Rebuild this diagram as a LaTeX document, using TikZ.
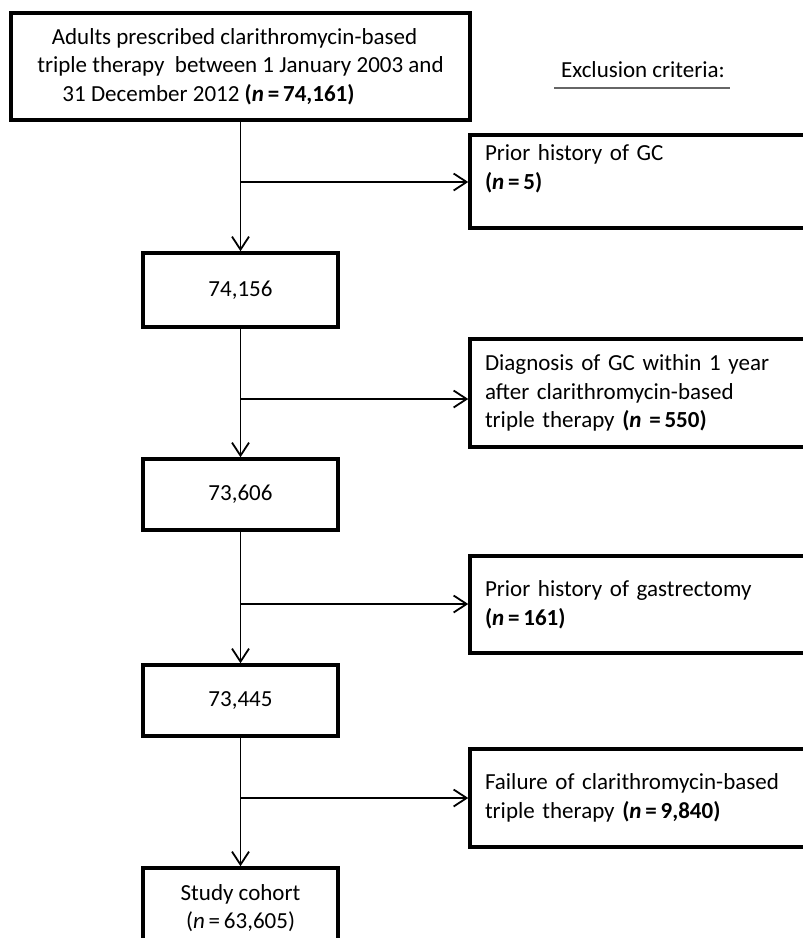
\documentclass[tikz,border=0pt]{standalone}
\usepackage{fontspec}
\setmainfont{Carlito}
\usetikzlibrary{arrows.meta}
\tikzset{
  txt/.style={font=\fontsize{23}{28.5}\selectfont, inner sep=0pt},
  mainbox/.style={txt, draw, line width=3.5pt, align=center},
  exbox/.style={txt, draw, line width=3.5pt, minimum width=380pt, text width=350pt, align=left, inner xsep=15pt},
  arr/.style={line width=1.8pt, -{Straight Barb[length=13pt,width=17pt,line width=1.8pt]}},
  ln/.style={line width=1.8pt}
}
\begin{document}
\begin{tikzpicture}[x=1pt,y=-1pt]
\useasboundingbox (0,0) rectangle (803,938);
% main column
\node[mainbox, minimum width=459pt, minimum height=107pt] (top) at (240.5,66.5)
  {Adults prescribed clarithromycin-based\hspace*{12pt}\\
   triple therapy\ \ between 1 January 2003 and\\
   31 December 2012 \textbf{(\textit{n}\,=\,74,161)}\hspace*{64pt}};
\node[mainbox, minimum width=195pt, minimum height=74pt] (b1) at (240.5,290) {74,156};
\node[mainbox, minimum width=195pt, minimum height=71pt] (b2) at (240.5,494.5) {73,606};
\node[mainbox, minimum width=195pt, minimum height=71pt] (b3) at (240.5,700.5) {73,445};
\node[mainbox, minimum width=195pt, minimum height=80pt] (fin) at (240.5,908)
  {Study cohort\\(\textit{n}\,=\,63,605)};
% exclusion header
\node[txt] (excl) at (643,70) {Exclusion criteria:};
\coordinate (u1) at (554,88);
\coordinate (u2) at (730,88);
\draw[line width=1.5pt, gray!80!black] (u1) -- (u2);
% exclusion boxes
\node[exbox, minimum height=93pt] (e1) at (660,181.5)
  {Prior history of GC\\\textbf{(\textit{n}\,=\,5)}\\~};
\node[exbox, minimum height=108pt] (e2) at (660,393)
  {Diagnosis of GC within 1 year\\after clarithromycin-based\\triple therapy \textbf{(\textit{n}\,\,=\,550)}};
\node[exbox, minimum height=97pt] (e3) at (660,604.5)
  {Prior history of gastrectomy\\\textbf{(\textit{n}\,=\,161)}};
\node[exbox, minimum height=98pt] (e4) at (660,798)
  {Failure of clarithromycin-based\\triple therapy \textbf{(\textit{n}\,=\,9,840)}};
% junctions
\coordinate (j1) at (240.5,182);
\coordinate (j2) at (240.5,399);
\coordinate (j3) at (240.5,604);
\coordinate (j4) at (240.5,798);
% connectors
\draw[arr] (top.south) -- (b1.north);
\draw[arr] (b1.south) -- (b2.north);
\draw[arr] (b2.south) -- (b3.north);
\draw[arr] (b3.south) -- (fin.north);
\draw[arr] (j1) -- (j1 -| e1.west);
\draw[arr] (j2) -- (j2 -| e2.west);
\draw[arr] (j3) -- (j3 -| e3.west);
\draw[arr] (j4) -- (j4 -| e4.west);
\end{tikzpicture}
\end{document}
